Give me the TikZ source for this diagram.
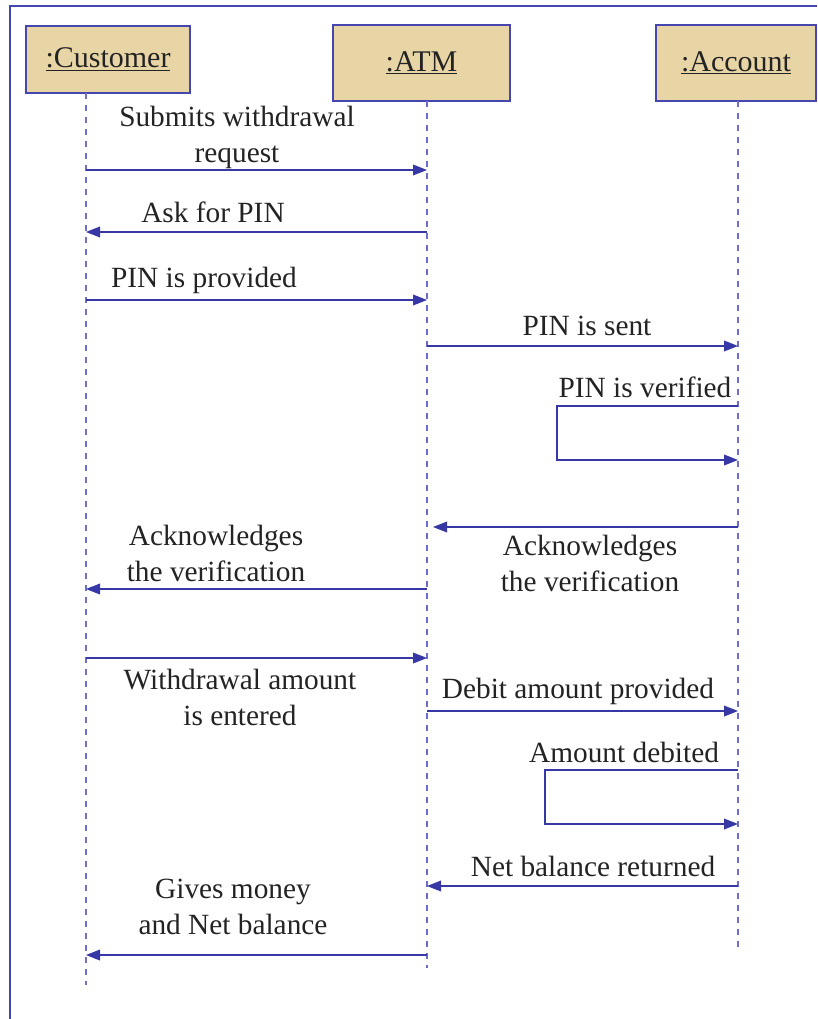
\documentclass[tikz,border=0pt]{standalone}
\usepackage{fontspec}
\setmainfont{Liberation Serif}
\usetikzlibrary{arrows.meta}
\definecolor{frameblue}{RGB}{70,70,175}
\definecolor{msgblue}{RGB}{55,55,165}
\definecolor{lifeblue}{RGB}{110,110,205}
\definecolor{parch}{RGB}{232,213,165}
\definecolor{txt}{RGB}{35,35,35}
\begin{document}
\begin{tikzpicture}[x=0.75pt,y=-0.75pt,
  hdr/.style={draw=frameblue,line width=1.3pt,fill=parch,inner sep=0pt,
    font=\fontsize{22.5}{26}\selectfont,text=txt},
  life/.style={draw=lifeblue,line width=0.9pt,dash pattern=on 4.5pt off 4.5pt},
  msg/.style={draw=msgblue,line width=1.1pt,-{Triangle[length=10.5pt,width=8pt]}},
  lbl/.style={font=\fontsize{22}{27}\selectfont,text=txt,align=center,inner sep=0pt}]
\useasboundingbox (0,0) rectangle (817,1019);
% frame
\coordinate (ftl) at (10,6);
\coordinate (fbl) at (10,1019);
\coordinate (ftr) at (817,6);
\draw[frameblue,line width=1.5pt] (fbl) -- (ftl) -- (ftr);
% headers
\node[hdr,minimum width=123pt,minimum height=50.25pt] (cust) at (108,59.5) {\underline{:Customer}};
\node[hdr,minimum width=132.75pt,minimum height=57pt] (atm) at (421.5,63) {\underline{:ATM}};
\node[hdr,minimum width=120pt,minimum height=57pt] (acc) at (736,63) {\underline{:Account}};
% lifelines
\coordinate (cT) at (86,93);   \coordinate (cB) at (86,985);
\coordinate (aT) at (427,101); \coordinate (aB) at (427,968);
\coordinate (kT) at (738,101); \coordinate (kB) at (738,950);
\draw[life] (cT) -- (cB);
\draw[life] (aT) -- (aB);
\draw[life] (kT) -- (kB);
% message points
\coordinate (c1) at (86,170);  \coordinate (a1) at (427,170);
\coordinate (a2) at (427,232); \coordinate (c2) at (86,232);
\coordinate (c3) at (86,300);  \coordinate (a3) at (427,300);
\coordinate (a4) at (427,346); \coordinate (k4) at (738,346);
\coordinate (k5a) at (738,406); \coordinate (k5b) at (738,460); \coordinate (s5) at (557,406);
\coordinate (k6) at (738,527); \coordinate (a6) at (433,527);
\coordinate (a7) at (427,589); \coordinate (c7) at (86,589);
\coordinate (c8) at (86,658);  \coordinate (a8) at (427,658);
\coordinate (a9) at (427,711); \coordinate (k9) at (738,711);
\coordinate (k10a) at (738,770); \coordinate (k10b) at (738,824); \coordinate (s10) at (545,770);
\coordinate (k11) at (738,886); \coordinate (a11) at (427,886);
\coordinate (a12) at (427,955); \coordinate (c12) at (86,955);
% messages
\draw[msg] (c1) -- (a1);
\draw[msg] (a2) -- (c2);
\draw[msg] (c3) -- (a3);
\draw[msg] (a4) -- (k4);
\draw[msg] (k5a) -- (s5) |- (k5b);
\draw[msg] (k6) -- (a6);
\draw[msg] (a7) -- (c7);
\draw[msg] (c8) -- (a8);
\draw[msg] (a9) -- (k9);
\draw[msg] (k10a) -- (s10) |- (k10b);
\draw[msg] (k11) -- (a11);
\draw[msg] (a12) -- (c12);
% labels
\node[lbl] (l1) at (237,137) {Submits withdrawal\\request};
\node[lbl] (l2) at (213,212) {Ask for PIN};
\node[lbl] (l3) at (204,280) {PIN is provided};
\node[lbl] (l4) at (587,326) {PIN is sent};
\node[lbl] (l5) at (645,387) {PIN is verified};
\node[lbl] (l6) at (590,563) {Acknowledges\\the verification};
\node[lbl] (l7) at (216,553) {Acknowledges\\the verification};
\node[lbl] (l8) at (240,697) {Withdrawal amount\\is entered};
\node[lbl] (l9) at (578,691) {Debit amount provided};
\node[lbl] (l10) at (624,752) {Amount debited};
\node[lbl] (l11) at (593,866) {Net balance returned};
\node[lbl] (l12) at (233,907) {Gives money\\and Net balance};
\end{tikzpicture}
\end{document}
